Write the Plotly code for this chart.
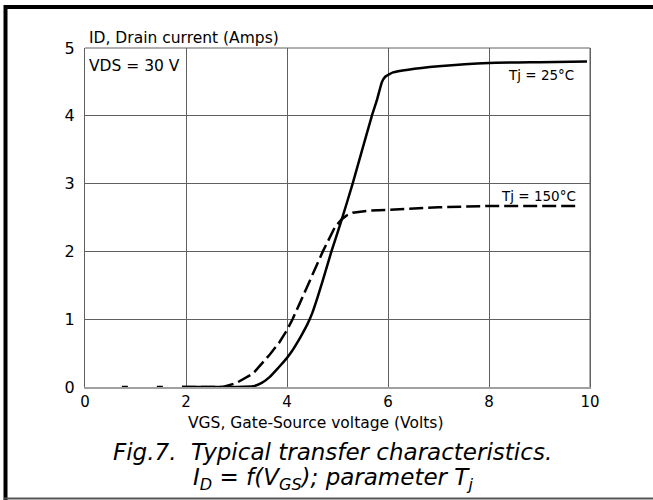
import plotly.graph_objects as go

# Tj = 25 C (solid)
vgs_25 = [1.92, 3.0, 3.33, 3.5, 3.66, 3.8, 3.92, 4.0, 4.1, 4.2, 4.3, 4.4, 4.5, 4.6, 4.7, 4.88, 5.08, 5.30, 5.68, 5.78, 5.88, 5.95, 6.1, 6.4, 7.0, 8.0, 9.0, 9.94]
id_25 = [0.0, 0.0, 0.01, 0.06, 0.15, 0.26, 0.36, 0.43, 0.53, 0.65, 0.78, 0.92, 1.09, 1.31, 1.55, 2.0, 2.46, 3.0, 4.0, 4.23, 4.5, 4.58, 4.64, 4.68, 4.73, 4.78, 4.79, 4.8]

# Tj = 150 C (dashed) - sparse tail along zero and main curve
vgs_150_tail = [0.73, 1.92]
id_150_tail = [0.0, 0.0]
vgs_150 = [1.92, 2.73, 3.0, 3.33, 3.66, 3.85, 4.0, 4.11, 4.25, 4.4, 4.71, 4.95, 5.08, 5.18, 5.3, 5.6, 6.4, 7.0, 8.0, 9.8]
id_150 = [0.0, 0.0, 0.06, 0.2, 0.48, 0.66, 0.84, 1.0, 1.23, 1.48, 2.0, 2.36, 2.47, 2.53, 2.57, 2.6, 2.63, 2.65, 2.67, 2.67]

x_ticks = [0, 2, 4, 6, 8, 10]
y_ticks = [0, 1, 2, 3, 4, 5]

FONT = "DejaVu Sans, Liberation Sans, Arial, sans-serif"

fig = go.Figure()
fig.add_trace(go.Scatter(x=vgs_150_tail, y=id_150_tail, mode="lines",
                         line=dict(color="black", width=2.5, dash="6px,29px"), showlegend=False))
fig.add_trace(go.Scatter(x=vgs_150, y=id_150, mode="lines",
                         line=dict(color="black", width=2.5, dash="14px,5px"), showlegend=False))
fig.add_trace(go.Scatter(x=vgs_25, y=id_25, mode="lines", line_shape="spline",
                         line=dict(color="black", width=2.5, smoothing=0.4), showlegend=False))

# plot area pixel geometry
L, R, T, B = 85, 63, 48, 113
W, H = 653 - L - R, 500 - T - B

def px(xpix):
    return (xpix - L) / W

def py(ypix):
    return (500 - B - ypix) / H

fig.update_layout(
    width=653, height=500,
    margin=dict(l=L, r=R, t=T, b=B, pad=0),
    paper_bgcolor="white", plot_bgcolor="white",
    font=dict(family=FONT, size=15, color="black"),
    xaxis=dict(range=[0, 10], tickvals=x_ticks, ticktext=[str(v) for v in x_ticks],
               showgrid=True, gridcolor="#606060", gridwidth=1,
               showline=True, linecolor="#a0a0a0", linewidth=2, mirror=False,
               zeroline=False, ticks="", fixedrange=True,
               tickfont=dict(size=15)),
    yaxis=dict(range=[0, 5], tickvals=y_ticks, ticktext=[str(v) for v in y_ticks],
               showgrid=True, gridcolor="#606060", gridwidth=1,
               showline=True, linecolor="#606060", linewidth=1, mirror=True,
               zeroline=False, ticks="outside", ticklen=6, tickcolor="white",
               fixedrange=True, tickfont=dict(size=16)),
    shapes=[
        # plot area top/right borders
        dict(type="line", xref="paper", yref="paper", x0=0, x1=1, y0=1, y1=1,
             line=dict(color="#606060", width=1)),
        dict(type="line", xref="paper", yref="paper", x0=1, x1=1, y0=0, y1=1,
             line=dict(color="#606060", width=1)),
        # outer frame
        dict(type="line", xref="paper", yref="paper", x0=px(5.5), x1=px(5.5), y0=py(5), y1=py(500),
             line=dict(color="black", width=4)),
        dict(type="line", xref="paper", yref="paper", x0=px(4), x1=px(653), y0=py(7), y1=py(7),
             line=dict(color="black", width=4)),
        dict(type="line", xref="paper", yref="paper", x0=px(4), x1=px(653), y0=py(498.5), y1=py(498.5),
             line=dict(color="#555555", width=2)),
    ],
    annotations=[
        dict(text="ID, Drain current (Amps)", xref="paper", yref="paper",
             x=px(87), y=py(38), xanchor="left", yanchor="middle", showarrow=False,
             font=dict(size=15.5)),
        dict(text="VDS = 30 V", xref="paper", yref="paper",
             x=px(87), y=py(66), xanchor="left", yanchor="middle", showarrow=False,
             font=dict(size=15.5)),
        dict(text="Tj = 25°C", xref="paper", yref="paper",
             x=px(576), y=py(75), xanchor="right", yanchor="middle", showarrow=False,
             font=dict(size=13.5)),
        dict(text="Tj = 150°C", xref="paper", yref="paper",
             x=px(578), y=py(196), xanchor="right", yanchor="middle", showarrow=False,
             font=dict(size=13.5)),
        dict(text="VGS, Gate-Source voltage (Volts)", xref="paper", yref="paper",
             x=px(315), y=py(423), xanchor="center", yanchor="middle", showarrow=False,
             font=dict(size=15.5)),
        dict(text="<i>Fig.7.  Typical transfer characteristics.</i>", xref="paper", yref="paper",
             x=px(332), y=py(452), xanchor="center", yanchor="middle", showarrow=False,
             font=dict(size=23)),
        dict(text="<i>I<sub>D</sub> = f(V<sub>GS</sub>); parameter T<sub>j</sub></i>", xref="paper", yref="paper",
             x=px(333), y=py(479), xanchor="center", yanchor="middle", showarrow=False,
             font=dict(size=23)),
    ],
)

fig.write_html("out.html")
